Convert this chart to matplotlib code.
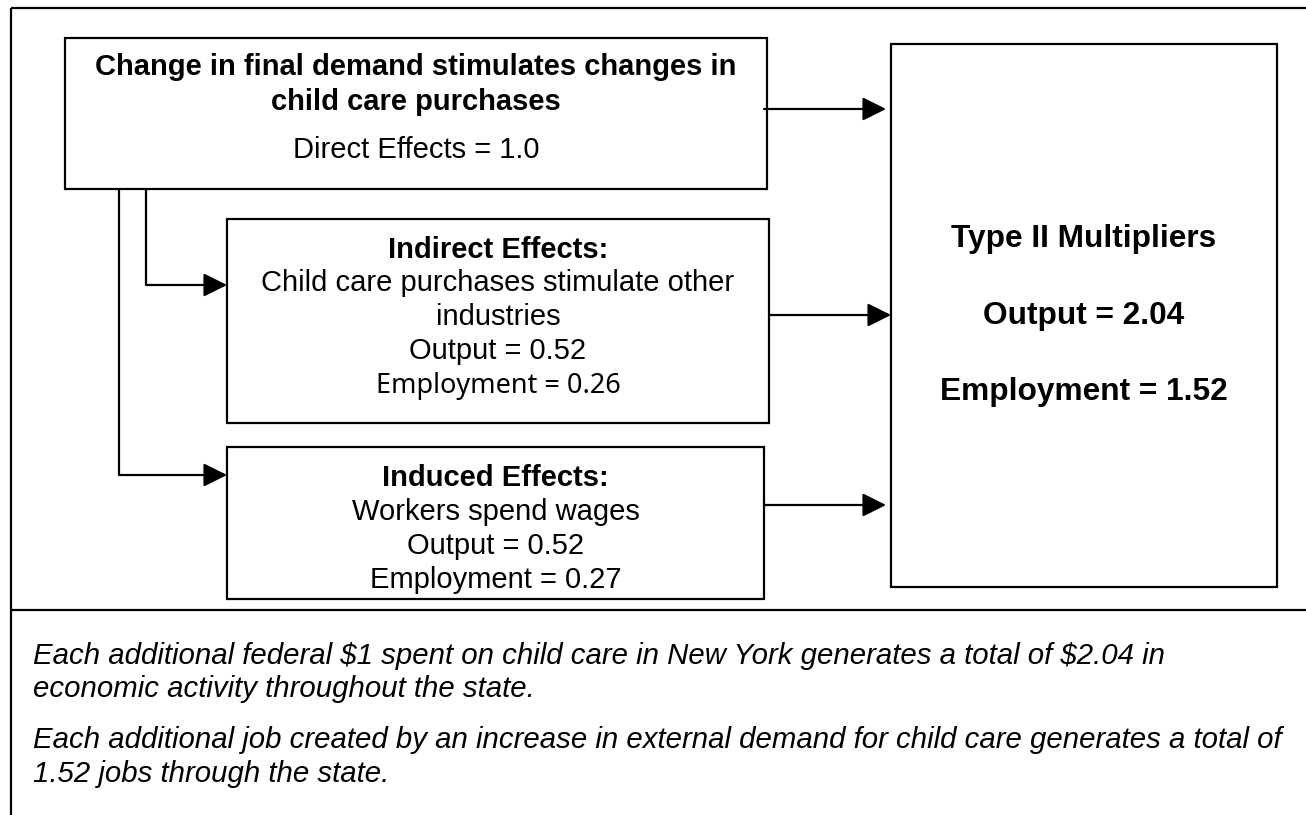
import matplotlib
matplotlib.use("Agg")
import matplotlib.pyplot as plt
from matplotlib.patches import Rectangle

# ---- content ----
direct_effect = 1.0
indirect_output = 0.52
indirect_employment = 0.26
induced_output = 0.52
induced_employment = 0.27
type2_output = 2.04
type2_employment = 1.52

box1_title = ["Change in final demand stimulates changes in", "child care purchases"]
box2_title = "Indirect Effects:"
box2_desc = ["Child care purchases stimulate other", "industries"]
box3_title = "Induced Effects:"
box3_desc = ["Workers spend wages"]
type2_title = "Type II Multipliers"
notes = [
    ["Each additional federal $1 spent on child care in New York generates a total of $%.2f in" % type2_output,
     "economic activity throughout the state."],
    ["Each additional job created by an increase in external demand for child care generates a total of",
     "%.2f jobs through the state." % type2_employment],
]

W, H = 1306, 815
fig = plt.figure(figsize=(W / 100, H / 100), dpi=100)
ax = fig.add_axes([0, 0, 1, 1])
ax.set_xlim(0, W)
ax.set_ylim(H, 0)
ax.axis("off")

FONT = "Liberation Sans"
LW = 1.6

def box(x0, y0, x1, y1):
    ax.add_patch(Rectangle((x0, y0), x1 - x0, y1 - y0, fill=False,
                           edgecolor="black", lw=LW))

def line(xs, ys):
    ax.plot(xs, ys, color="black", lw=LW, solid_capstyle="butt")

def arrow(x0, y, x1):
    ax.annotate("", xy=(x1, y), xytext=(x0, y),
                arrowprops=dict(arrowstyle="-|>,head_length=0.4,head_width=0.2",
                                mutation_scale=36, color="black", lw=LW,
                                shrinkA=0, shrinkB=0))

def txt(x, y, s, size=21, weight="normal", family=FONT, style="normal", ha="center"):
    ax.text(x, y, s, ha=ha, va="baseline", fontsize=size,
            fontweight=weight, family=family, style=style, color="black",
            parse_math=False)

# outer frame (open on the right and bottom)
line([11, 11], [8, H])
line([11, W], [8, 8])
line([11, W], [610, 610])

# boxes
box(65, 38, 767, 189)
box(227, 219, 769, 423)
box(227, 447, 764, 599)
box(891, 44, 1277, 587)

# connectors on the left
line([146, 146], [189, 285])
arrow(146, 285, 227)
line([119, 119], [189, 475])
arrow(119, 475, 227)

# arrows to right box
arrow(764, 109, 886)
arrow(769, 315, 891)
arrow(764, 505, 886)

# box 1 text
cx1 = (65 + 767) / 2
txt(cx1, 75, box1_title[0], weight="bold")
txt(cx1, 110, box1_title[1], weight="bold")
txt(cx1, 158, "Direct Effects = %.1f" % direct_effect)

# box 2 text
cx2 = (227 + 769) / 2
txt(cx2, 258, box2_title, weight="bold")
txt(cx2, 291, box2_desc[0])
txt(cx2, 325, box2_desc[1])
txt(cx2, 359, "Output = %.2f" % indirect_output)
txt(cx2, 393, "Employment = %.2f" % indirect_employment, size=19.5, family="Noto Sans")

# box 3 text
cx3 = (227 + 764) / 2
txt(cx3, 486, box3_title, weight="bold")
txt(cx3, 520, box3_desc[0])
txt(cx3, 554, "Output = %.2f" % induced_output)
txt(cx3, 588, "Employment = %.2f" % induced_employment)

# right box text
cx4 = (891 + 1277) / 2
txt(cx4, 247, type2_title, size=22.8, weight="bold")
txt(cx4, 324, "Output = %.2f" % type2_output, size=22.8, weight="bold")
txt(cx4, 400, "Employment = %.2f" % type2_employment, size=22.8, weight="bold")

# notes
baselines = [[664, 697], [748, 782]]
for para, bls in zip(notes, baselines):
    for s, b in zip(para, bls):
        txt(33, b, s, size=21.2, style="italic", ha="left")

fig.savefig("out.png", dpi=100)
